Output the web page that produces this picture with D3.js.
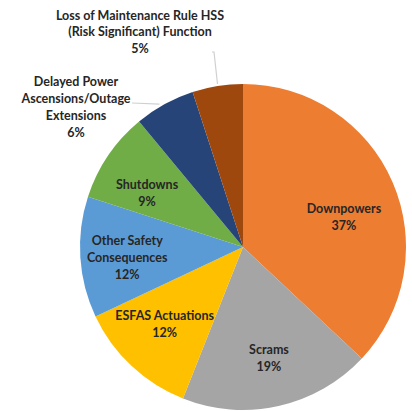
<!DOCTYPE html>
<html>
<head>
<meta charset="utf-8">
<script src="https://cdn.jsdelivr.net/npm/d3@7"></script>
<style>
  html, body { margin: 0; padding: 0; background: #fff; }
  svg { display: block; }
</style>
</head>
<body>
<div id="chart"></div>
<script>
// slice data, clockwise from 12 o'clock
const categories = [
  'Downpowers',
  'Scrams',
  'ESFAS Actuations',
  'Other Safety Consequences',
  'Shutdowns',
  'Delayed Power Ascensions/Outage Extensions',
  'Loss of Maintenance Rule HSS (Risk Significant) Function',
];
const values = [37, 19, 12, 12, 9, 6, 5];
const colors = ['#ED7D31', '#A5A5A5', '#FFC000', '#5B9BD5', '#70AD47', '#264478', '#9E480E'];

// how the label text breaks into lines
const labelLines = [
  ['Downpowers'],
  ['Scrams'],
  ['ESFAS Actuations'],
  ['Other Safety', 'Consequences'],
  ['Shutdowns'],
  ['Delayed Power', 'Ascensions/Outage', 'Extensions'],
  ['Loss of Maintenance Rule HSS', '(Risk Significant) Function'],
];

const width = 412;
const height = 411;
const cx = 243;
const cy = 247;
const radius = 163;
const lineH = 16.8;
const textColor = '#262626';
const leaderColor = '#D0D0D0';

// inside labels sit on a ring, nudged a little like Excel's best fit
const labelRadius = 110;
const nudge = { 0: [0, 14], 1: [2, 4], 2: [-3, -3], 3: [-6, 4], 4: [-5, 8] };
// outside labels (block centre) for the two thin slices
const outside = { 5: [76, 107], 6: [140, 32] };

const svg = d3.select('#chart').append('svg')
  .attr('width', width)
  .attr('height', height);

const g = svg.append('g').attr('transform', `translate(${cx},${cy})`);

const pie = d3.pie().sort(null).value((d) => d);
const arcs = pie(values);

const arc = d3.arc().innerRadius(0).outerRadius(radius);
const labelArc = d3.arc().innerRadius(labelRadius).outerRadius(labelRadius);
const edgeArc = d3.arc().innerRadius(radius).outerRadius(radius);

g.selectAll('path.slice')
  .data(arcs)
  .join('path')
  .attr('class', 'slice')
  .attr('d', arc)
  .attr('fill', (d, i) => colors[i]);

function drawLabel(i, x, y) {
  const lines = [...labelLines[i], values[i] + '%'];
  const t = svg.append('text')
    .attr('font-family', 'Lato, "Open Sans", sans-serif')
    .attr('font-size', 12.5)
    .attr('font-weight', 700)
    .attr('fill', textColor)
    .attr('text-anchor', 'middle');
  const top = y - ((lines.length - 1) * lineH) / 2;
  lines.forEach((s, k) => {
    t.append('tspan')
      .attr('x', x)
      .attr('y', top + k * lineH)
      .attr('dy', '0.35em')
      .text(s);
  });
}

arcs.forEach((d, i) => {
  if (outside[i]) return;
  const c = labelArc.centroid(d);
  const n = nudge[i] || [0, 0];
  drawLabel(i, cx + c[0] + n[0], cy + c[1] + n[1]);
});

// leader lines to the two outside labels
const e5 = edgeArc.centroid(arcs[5]);
svg.append('polyline')
  .attr('points', [[132, 103], [cx + e5[0] - 5, cy + e5[1]]].join(' '))
  .attr('fill', 'none')
  .attr('stroke', leaderColor)
  .attr('stroke-width', 1.2);

const e6 = edgeArc.centroid(arcs[6]);
svg.append('polyline')
  .attr('points', [[212, 52], [214, 52], [cx + e6[0], cy + e6[1] - 2]].join(' '))
  .attr('fill', 'none')
  .attr('stroke', leaderColor)
  .attr('stroke-width', 1.2);

drawLabel(5, outside[5][0], outside[5][1]);
drawLabel(6, outside[6][0], outside[6][1]);
</script>
</body>
</html>
